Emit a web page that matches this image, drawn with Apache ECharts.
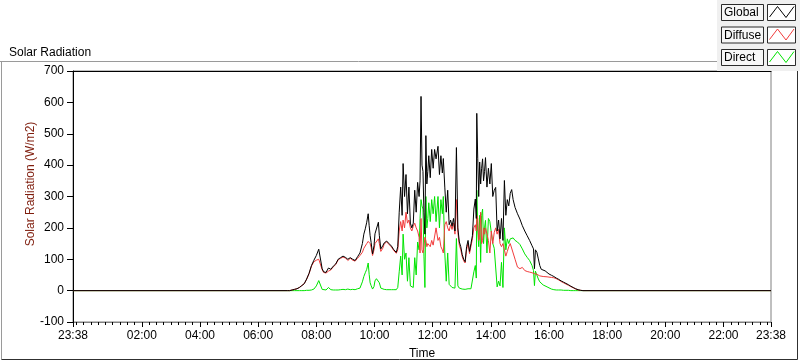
<!DOCTYPE html>
<html>
<head>
<meta charset="utf-8">
<title>Solar Radiation</title>
<script src="https://cdn.jsdelivr.net/npm/echarts@6/dist/echarts.min.js"></script>
<style>
	html, body { margin: 0; padding: 0; background: #fff; }
	#SolarChart { width: 800px; height: 361px; }
</style>
</head>
<body>
<div id="SolarChart"></div>
<script>
	// == time in minutes of the day (23:38 of the previous day = -22) ==
	const times = [
		-22,
		420, 425, 430, 435, 440, 445, 450, 455, 460, 465,
		470, 475, 480, 485, 489, 492, 495, 500, 505, 510,
		515, 520, 525, 530, 535, 540, 545, 550, 555, 560,
		565, 570, 575, 578, 581, 584, 587, 589, 591, 593,
		596, 599, 601, 604, 608, 610, 613, 617, 620,
		625, 630, 635, 640, 645, 648, 651, 654, 657, 659,
		662, 665, 668, 671, 674, 677, 680, 683, 686, 689,
		692, 694, 696, 698, 700, 702, 704, 706, 708, 710,
		712, 715, 718, 721, 724, 727, 731, 734, 737, 740,
		742, 745, 748, 751, 754, 757, 760, 763, 766, 769,
		772, 775, 778, 781, 784, 787, 790, 793, 796, 799,
		802, 805, 808, 810, 811, 813, 815, 817, 819, 821,
		823, 825, 827, 829,
		832, 835, 838, 841, 844, 847, 850, 853, 856, 859,
		862, 865, 868, 871, 874, 877, 880, 883, 886, 890,
		895, 900, 905, 910, 915, 920, 925, 928, 930, 932,
		935, 938, 941, 944, 948, 952, 956, 960, 965, 970,
		975, 980, 985, 990, 995, 1000, 1005, 1010, 1015, 1020, 1025, 1030,
		1418,
	];
	// == Global (W/m2) ==
	const globalData = [
		0,
		0, 0, 2, 4, 6, 10, 16, 22, 37, 55,
		80, 97, 112, 132, 136, 70, 60, 58, 72, 68,
		78, 85, 100, 105, 110, 106, 100, 105, 100, 96,
		108, 120, 150, 180, 197, 218, 245, 207, 175, 154,
		117, 143, 181, 186, 218, 175, 133, 143, 152,
		158, 150, 142, 130, 122, 140, 250, 330, 240, 405,
		300, 370, 245, 330, 215, 200, 215, 320, 250, 345,
		300, 350, 619, 400, 380, 250, 180, 494, 340, 380,
		430, 360, 450, 390, 450, 420, 460, 370, 430, 375,
		421, 330, 250, 320, 210, 225, 205, 230, 190, 456,
		200, 155, 140, 115, 100, 92, 140, 160, 125, 150,
		175, 260, 292, 230, 565, 420, 300, 410, 340, 390,
		420, 350, 380, 424,
		330, 390, 340, 405, 300, 320, 329, 190, 225, 165,
		230, 160, 351, 240, 290, 270, 310, 322, 290, 265,
		245, 228, 207, 190, 175, 160, 143, 133, 70, 130,
		122, 101, 80, 68, 65, 63, 58, 53, 49, 45,
		40, 36, 31, 27, 23, 19, 14, 10, 6, 3, 1, 0,
		0,
	];
	// == Diffuse (W/m2) ==
	const diffuseData = [
		0,
		0, 0, 2, 4, 6, 10, 16, 22, 36, 54,
		78, 92, 97, 100, 99, 67, 58, 56, 62, 66,
		76, 83, 98, 103, 107, 104, 96, 103, 97, 94,
		103, 112, 122, 135, 140, 150, 157, 155, 150, 138,
		112, 130, 150, 148, 165, 150, 125, 135, 148,
		156, 147, 139, 127, 119, 130, 190, 220, 190, 225,
		200, 250, 215, 225, 200, 190, 205, 215, 200, 190,
		170, 120, 230, 130, 120, 140, 170, 160, 140, 150,
		150, 140, 160, 145, 150, 200, 160, 170, 140, 130,
		120, 210, 220, 200, 190, 210, 195, 215, 180, 290,
		185, 145, 130, 108, 95, 88, 132, 150, 118, 142,
		165, 200, 210, 190, 240, 230, 160, 170, 250, 150,
		160, 200, 180, 200,
		200, 160, 120, 190, 150, 185, 200, 180, 195, 150,
		140, 150, 150, 110, 125, 140, 150, 150, 120, 100,
		75, 70, 74, 64, 61, 59, 57, 55, 54, 53,
		52, 49, 47, 46, 45, 44, 44, 43, 42, 41,
		38, 34, 29, 25, 21, 17, 13, 9, 5, 2, 1, 0,
		0,
	];
	// == Direct (W/m2) ==
	const directData = [
		0,
		0, 0, 0, 0, 0, 0, 0, 0, 1, 1,
		2, 5, 15, 32, 38, 4, 2, 2, 10, 3,
		2, 2, 2, 3, 4, 3, 5, 3, 4, 3,
		6, 8, 28, 45, 57, 68, 88, 52, 25, 16,
		5, 13, 31, 38, 40, 25, 8, 8, 4,
		3, 3, 3, 3, 3, 10, 60, 110, 50, 180,
		100, 120, 30, 105, 15, 10, 10, 105, 50, 155,
		130, 230, 290, 270, 260, 110, 10, 300, 200, 230,
		280, 220, 290, 245, 300, 220, 300, 200, 290, 245,
		300, 120, 30, 120, 20, 15, 10, 15, 8, 166,
		15, 8, 6, 5, 5, 4, 5, 6, 5, 6,
		8, 60, 80, 40, 320, 190, 140, 240, 90, 240,
		260, 150, 200, 224,
		120, 230, 220, 215, 150, 135, 130, 12, 30, 15,
		90, 10, 200, 130, 165, 150, 165, 170, 168, 160,
		155, 147, 133, 117, 106, 96, 80, 64, 16, 62,
		58, 37, 28, 22, 18, 16, 12, 8, 5, 3,
		2, 2, 2, 1, 1, 1, 0, 0, 0, 0, 0, 0,
		0,
	];
	// == axis ticks (minutes) ==
	const startMin = -22;
	const endMin = 1418;
	const majorTicks = [-22, 120, 240, 360, 480, 600, 720, 840, 960, 1080, 1200, 1320, 1418];
	const minorTicks = [];
	for (let m = -15; m < endMin; m += 15) {
		if (!(m > 0 && m % 120 === 0)) minorTicks.push(m);
	}
	const yTicks = { min: -100, max: 700, step: 100 };

	const FONT = 'Liberation Sans';
	const seriesInfo = [
		{ name: 'Global', color: '#000000', data: globalData },
		{ name: 'Diffuse', color: '#f23c3c', data: diffuseData },
		{ name: 'Direct', color: '#00e400', data: directData },
	];

	function fmtTime(v) {
		const m = ((Math.round(v) % 1440) + 1440) % 1440;
		const hh = Math.floor(m / 60);
		const mm = m % 60;
		return (hh < 10 ? '0' : '') + hh + ':' + (mm < 10 ? '0' : '') + mm;
	}

	// == legend (LabVIEW style boxes) ==
	const legendGraphics = [
		{ type: 'rect', shape: { x: 717, y: 0, width: 83, height: 71 }, style: { fill: '#f0f0f0' }, silent: true },
	];
	seriesInfo.forEach((s, i) => {
		const top = 4.5 + i * 22.5;
		legendGraphics.push(
			{ type: 'rect', shape: { x: 721.5, y: top, width: 42, height: 16 }, style: { fill: '#f7f7f7', stroke: '#2b2b2b', lineWidth: 1 } },
			{ type: 'text', x: 724, y: top + 8.5, style: { text: s.name, font: '12px ' + FONT, fill: '#000', verticalAlign: 'middle' } },
			{ type: 'rect', shape: { x: 767.5, y: top, width: 28, height: 16 }, style: { fill: '#ffffff', stroke: '#2b2b2b', lineWidth: 1 } },
			{
				type: 'polyline',
				shape: { points: [[769.5, top + 12.5], [777.5, top + 2], [786, top + 13], [794, top + 2]] },
				style: { stroke: s.color, lineWidth: 1, fill: null },
			}
		);
	});

	var chartDom = document.getElementById('SolarChart');
	var myChart = echarts.init(chartDom);
	var option;

	option = {
		animation: false,
		backgroundColor: '#ffffff',
		title: {
			text: 'Solar Radiation',
			left: 4,
			top: 42,
			textStyle: { fontSize: 12, fontWeight: 'normal', color: '#000', fontFamily: FONT },
		},
		grid: {
			left: 73,
			top: 71,
			width: 698,
			height: 251,
			containLabel: false,
			outerBoundsMode: 'none',
			show: true,
			backgroundColor: '#ffffff',
			borderColor: '#808080',
			borderWidth: 1,
		},
		xAxis: [
			{
				type: 'value',
				min: startMin,
				max: endMin,
				position: 'bottom',
				name: 'Time',
				nameLocation: 'middle',
				nameGap: 26,
				nameTextStyle: { fontSize: 12, color: '#000', fontFamily: FONT },
				axisLine: { show: true, onZero: false, lineStyle: { color: '#808080' } },
				axisTick: { show: true, customValues: majorTicks, length: 5, lineStyle: { color: '#000' } },
				axisLabel: { customValues: majorTicks, formatter: fmtTime, margin: 8, fontSize: 12, color: '#000', fontFamily: FONT },
				splitLine: { show: false },
			},
			{
				type: 'value',
				min: startMin,
				max: endMin,
				position: 'bottom',
				axisLine: { show: false, onZero: false },
				axisTick: { show: true, customValues: minorTicks, length: 3, lineStyle: { color: '#000' } },
				axisLabel: { show: false },
				splitLine: { show: false },
			},
			{
				type: 'value',
				min: startMin,
				max: endMin,
				position: 'top',
				axisLine: { show: true, onZero: false, lineStyle: { color: '#000' } },
				axisTick: { show: false },
				axisLabel: { show: false },
				splitLine: { show: false },
			},
		],
		yAxis: {
			type: 'value',
			min: yTicks.min,
			max: yTicks.max,
			interval: yTicks.step,
			axisLine: { show: true, onZero: false, lineStyle: { color: '#000' } },
			axisTick: { show: true, length: 6, lineStyle: { color: '#000' } },
			axisLabel: { margin: 9, fontSize: 12, color: '#000', fontFamily: FONT },
			splitLine: { show: false },
		},
		graphic: [
			// == outer frame ==
			{ type: 'line', shape: { x1: 0, y1: 61.5, x2: 717, y2: 61.5 }, style: { stroke: '#9a9a9a', lineWidth: 1 } },
			{ type: 'line', shape: { x1: 1.5, y1: 61.5, x2: 1.5, y2: 359.5 }, style: { stroke: '#9a9a9a', lineWidth: 1 } },
			{ type: 'line', shape: { x1: 1.5, y1: 359.5, x2: 797.5, y2: 359.5 }, style: { stroke: '#303030', lineWidth: 1 } },
			{ type: 'line', shape: { x1: 797.5, y1: 71, x2: 797.5, y2: 359.5 }, style: { stroke: '#303030', lineWidth: 1 } },
			// == y axis name ==
			{
				type: 'text',
				x: 31,
				y: 184,
				rotation: Math.PI / 2,
				style: { text: 'Solar Radiation (W/m2)', font: '12px ' + FONT, fill: '#7f1d0d', align: 'center', verticalAlign: 'middle' },
			},
		].concat(legendGraphics),
		// == drawn bottom to top: Direct, Diffuse, Global ==
		series: seriesInfo.slice().reverse().map((s) => ({
			name: s.name,
			type: 'line',
			xAxisIndex: 0,
			yAxisIndex: 0,
			showSymbol: false,
			silent: true,
			lineStyle: { width: 1, color: s.color },
			itemStyle: { color: s.color },
			data: times.map((t, i) => [t, s.data[i]]),
		})),
	};

	option && myChart.setOption(option);
</script>
</body>
</html>
